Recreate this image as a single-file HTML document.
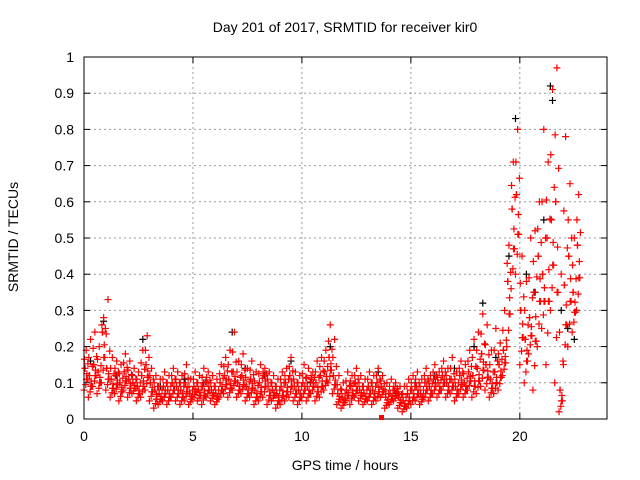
<!DOCTYPE html>
<html><head><meta charset="utf-8"><style>
body{margin:0;background:#fff}
svg{display:block;font-family:"Liberation Sans",sans-serif}
</style></head><body>
<svg id="chart" width="640" height="480">
<text x="345" y="32" font-size="14" text-anchor="middle">Day 201 of 2017, SRMTID for receiver kir0</text>
<text x="345" y="470" font-size="14" text-anchor="middle">GPS time / hours</text>
<text x="18" y="237" font-size="14" text-anchor="middle" transform="rotate(-90 18 237)">SRMTID / TECUs</text>
<g id="grid"></g><g id="ticks"></g><g id="marks"></g>
<rect x="84" y="57" width="523" height="362" fill="none" stroke="#000" stroke-width="1"/>
<rect x="379" y="415" width="5" height="5" fill="#f00"/>
</svg>
<script>
const hours=[0,0.2,0.4,0.6,0.8,1.0,1.2,1.4,1.6,1.8,2.0,2.2,2.4,2.6,2.8,3.0,3.2,3.4,3.6,3.8,4.0,4.2,4.4,4.6,4.8,5.0,5.2,5.4,5.6,5.8,6.0,6.2,6.4,6.6,6.8,7.0,7.2,7.4,7.6,7.8,8.0,8.2,8.4,8.6,8.8,9.0,9.2,9.4,9.6,9.8,10.0,10.2,10.4,10.6,10.8,11.0,11.2,11.4,11.6,11.8,12.0,12.2,12.4,12.6,12.8,13.0,13.2,13.4,13.6,13.8,14.0,14.2,14.4,14.6,14.8,15.0,15.2,15.4,15.6,15.8,16.0,16.2,16.4,16.6,16.8,17.0,17.2,17.4,17.6,17.8,18.0,18.2,18.4,18.6,18.8,19.0,19.2,19.4,19.6,19.8,20.0,20.2,20.4,20.6,20.8,21.0,21.2,21.4,21.6,21.8,22.0,22.2,22.4,22.6];
const redLow=[.08,.06,.09,.07,.10,.08,.06,.07,.05,.08,.06,.07,.05,.06,.08,.05,.03,.04,.05,.04,.06,.05,.04,.05,.04,.06,.05,.04,.06,.05,.04,.06,.07,.06,.08,.06,.07,.05,.06,.04,.05,.06,.04,.05,.03,.04,.05,.06,.05,.04,.06,.05,.07,.05,.06,.08,.10,.07,.04,.03,.05,.04,.06,.05,.04,.05,.04,.05,.06,.03,.04,.05,.03,.02,.03,.04,.05,.04,.06,.05,.07,.06,.08,.06,.07,.05,.07,.06,.08,.06,.07,.09,.08,.06,.07,.08,.12,.20,.36,.40,.15,.10,.18,.08,.20,.25,.15,.30,.10,.02,.15,.20,.24,.30];
const redMid=[.14,.12,.15,.13,.24,.14,.11,.12,.10,.13,.11,.10,.09,.12,.15,.10,.08,.07,.09,.08,.10,.09,.08,.10,.07,.09,.08,.09,.10,.08,.07,.10,.12,.11,.13,.10,.12,.09,.11,.08,.10,.12,.09,.08,.07,.09,.10,.12,.09,.08,.10,.09,.11,.10,.12,.13,.17,.12,.07,.06,.08,.09,.10,.08,.07,.09,.08,.10,.09,.06,.07,.08,.06,.05,.07,.08,.09,.07,.10,.09,.11,.10,.12,.10,.11,.09,.12,.10,.13,.12,.14,.18,.15,.11,.13,.15,.19,.38,.58,.62,.30,.22,.28,.35,.45,.40,.50,.55,.60,.08,.37,.45,.35,.48];
const redHigh=[.19,.22,.24,.20,.28,.33,.17,.16,.15,.18,.16,.14,.13,.19,.23,.14,.12,.11,.13,.12,.14,.13,.12,.15,.11,.13,.12,.14,.13,.12,.11,.15,.17,.19,.24,.16,.18,.14,.16,.13,.15,.14,.13,.12,.11,.13,.14,.17,.13,.12,.15,.14,.13,.16,.17,.19,.26,.22,.12,.10,.13,.12,.14,.12,.11,.13,.12,.14,.12,.10,.11,.10,.09,.09,.11,.12,.13,.11,.14,.12,.15,.13,.16,.14,.17,.13,.16,.15,.19,.22,.24,.29,.26,.19,.25,.21,.30,.48,.71,.80,.45,.38,.50,.52,.60,.80,.71,.91,.97,.40,.78,.65,.50,.62];
const blackHours=[0.3,0.9,1.5,2.7,3.5,4.6,5.5,6.8,7.4,8.3,9.5,10.4,11.3,12.5,13.5,14.3,15.2,16.1,17.0,17.9,18.3,18.9,19.5,19.8,20.3,20.7,21.1,21.4,21.5,21.9,22.2,22.5];
const blackVals=[.16,.27,.12,.22,.09,.11,.10,.24,.14,.12,.16,.10,.20,.08,.13,.07,.10,.12,.14,.20,.32,.17,.45,.83,.40,.35,.55,.92,.88,.30,.25,.22];
const xTicks=[0,5,10,15,20];
const yTicks=[0,0.1,0.2,0.3,0.4,0.5,0.6,0.7,0.8,0.9,1];
const yLabels=["0","0.1","0.2","0.3","0.4","0.5","0.6","0.7","0.8","0.9","1"];
const X0=84,X1=607,Y0=419,Y1=57;
const xs=h=>X0+h/24*(X1-X0);
const ys=v=>Y0-v*(Y0-Y1);
const NS="http://www.w3.org/2000/svg";
const grid=document.getElementById('grid'),ticks=document.getElementById('ticks'),marks=document.getElementById('marks');
function mk(tag,attrs,parent){const e=document.createElementNS(NS,tag);for(const k in attrs)e.setAttribute(k,attrs[k]);parent.appendChild(e);return e;}
xTicks.forEach(t=>{const x=xs(t);
 if(t>0){const g=mk('line',{x1:x,y1:Y0,x2:x,y2:Y1,stroke:'#999','stroke-dasharray':'2,3'},grid);
 
 }
 mk('line',{x1:x,y1:Y0,x2:x,y2:Y0-6,stroke:'#000'},ticks);mk('line',{x1:x,y1:Y1,x2:x,y2:Y1+6,stroke:'#000'},ticks);
 const l=mk('text',{x:x,y:Y0+22,'font-size':14,'text-anchor':'middle'},ticks);l.textContent=t;
 
 });
yTicks.forEach((t,i)=>{const y=ys(t);
 if(t>0&&t<1){const g=mk('line',{x1:X0,y1:y,x2:X1,y2:y,stroke:'#999','stroke-dasharray':'2,3'},grid);
 
 }
 mk('line',{x1:X0,y1:y,x2:X0+6,y2:y,stroke:'#000'},ticks);mk('line',{x1:X1,y1:y,x2:X1-6,y2:y,stroke:'#000'},ticks);
 const l=mk('text',{x:X0-10,y:y+5,'font-size':14,'text-anchor':'end'},ticks);l.textContent=yLabels[i];
 
 });
function plus(h,v,col,name){const x=xs(h),y=ys(v);
 const p=mk('path',{d:`M${x-3.5},${y}h7M${x},${y-3.5}v7`,stroke:col,'stroke-width':1.2,fill:'none'},marks);
 
 }
blackHours.forEach((h,i)=>plus(h,blackVals[i],'#000','black-point'));
const offs=[0,0.05,0.1,0.15,0.02,0.08,0.13,0.18,0.04,0.11];
hours.forEach((h,i)=>{
 const lo=redLow[i],mid=redMid[i],hi=redHigh[i];
 const vals=[lo,mid,hi,(lo+mid)/2,(mid+hi)/2,(3*lo+mid)/4,(lo+3*mid)/4,(3*mid+hi)/4,mid,(lo+mid)/2];
 vals.forEach((v,k)=>plus(h+offs[k],v,'#f00','red-point'));
});
</script>
</body></html>
